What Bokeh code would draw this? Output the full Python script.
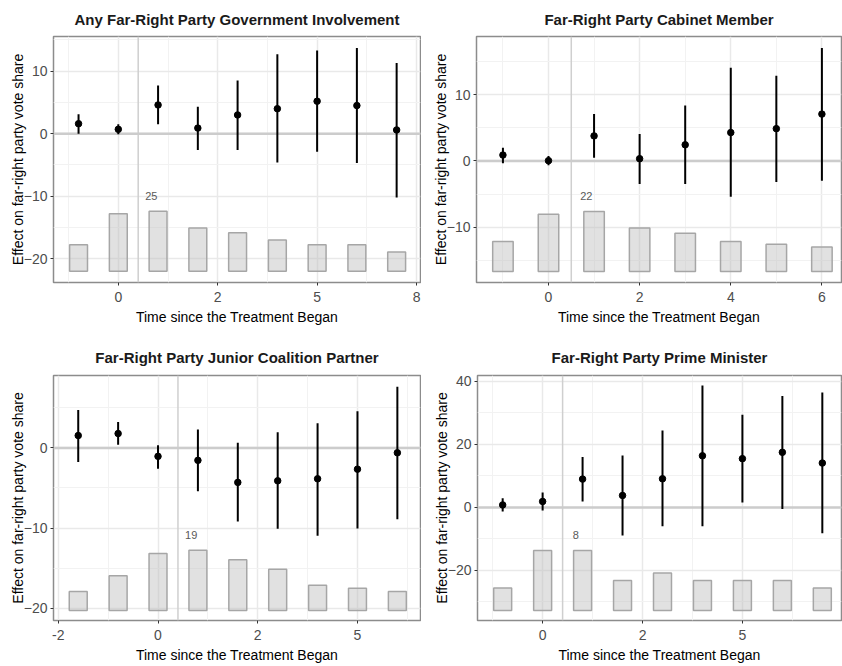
from bokeh.plotting import figure
from bokeh.models import FixedTicker, Span, Range1d
from bokeh.layouts import column, row
from bokeh.embed import file_html
from bokeh.resources import INLINE
from bokeh.core.properties import value

FONT = "Liberation Sans"

x_title = "Time since the Treatment Began"
y_title = "Effect on far-right party vote share"

# ---- Panel 1: Any far-right party government involvement
title_1 = "Any Far-Right Party Government Involvement"
time_1 = [-1, 0, 1, 2, 3, 4, 5, 6, 7]
est_1 = [1.6, 0.7, 4.6, 0.9, 3.0, 4.0, 5.2, 4.5, 0.6]
lo_1 = [0.0, -0.1, 1.5, -2.6, -2.6, -4.6, -2.9, -4.7, -10.2]
hi_1 = [3.1, 1.5, 7.7, 4.3, 8.5, 12.7, 13.3, 13.7, 11.3]
count_1 = [11, 24, 25, 18, 16, 13, 11, 11, 8]
xticks_1 = [0, 2.5, 5, 7.5]
xlabels_1 = ["0", "2", "5", "8"]
yticks_1 = [-20, -10, 0, 10]

# ---- Panel 2: Far-right party cabinet member
title_2 = "Far-Right Party Cabinet Member"
time_2 = [-1, 0, 1, 2, 3, 4, 5, 6]
est_2 = [0.9, 0.05, 3.8, 0.35, 2.45, 4.3, 4.9, 7.1]
lo_2 = [-0.35, -0.65, 0.5, -3.5, -3.5, -5.4, -3.2, -3.0]
hi_2 = [2.0, 0.75, 7.1, 4.1, 8.4, 14.1, 12.9, 17.1]
count_2 = [11, 21, 22, 16, 14, 11, 10, 9]
xticks_2 = [0, 2, 4, 6]
xlabels_2 = ["0", "2", "4", "6"]
yticks_2 = [-10, 0, 10]

# ---- Panel 3: Far-right party junior coalition partner
title_3 = "Far-Right Party Junior Coalition Partner"
time_3 = [-2, -1, 0, 1, 2, 3, 4, 5, 6]
est_3 = [1.55, 1.8, -1.05, -1.55, -4.3, -4.1, -3.85, -2.65, -0.6]
lo_3 = [-1.75, 0.4, -2.6, -5.4, -9.2, -10.1, -10.95, -10.05, -8.9]
hi_3 = [4.75, 3.25, 0.35, 2.3, 0.65, 1.95, 3.1, 4.6, 7.65]
count_3 = [6, 11, 18, 19, 16, 13, 8, 7, 6]
xticks_3 = [-2.5, 0, 2.5, 5]
xlabels_3 = ["-2", "0", "2", "5"]
yticks_3 = [-20, -10, 0]

# ---- Panel 4: Far-right party prime minister
title_4 = "Far-Right Party Prime Minister"
time_4 = [-1, 0, 1, 2, 3, 4, 5, 6, 7]
est_4 = [0.8, 1.9, 9.0, 3.8, 9.1, 16.4, 15.5, 17.5, 14.1]
lo_4 = [-1.3, -0.95, 1.9, -8.9, -6.0, -6.0, 1.6, -0.5, -8.2]
hi_4 = [2.95, 4.75, 16.0, 16.5, 24.4, 38.7, 29.4, 35.4, 36.5]
count_4 = [3, 8, 8, 4, 5, 4, 4, 4, 3]
xticks_4 = [0, 2.5, 5]
xlabels_4 = ["0", "2", "5"]
yticks_4 = [-20, 0, 20, 40]


def midpoints(ticks, lo, hi):
    step = ticks[1] - ticks[0]
    out = []
    v = ticks[0] - step / 2
    while v > lo:
        v -= step
    v += step
    while v < hi:
        out.append(v)
        v += step
    return [m for m in out if m not in ticks]


def panel(title, t, est, lo, hi, cnt, xticks, xlabels, yticks,
          xr, yr, bar_base, bar_h, left, right, top, bottom, height, t_standoff):
    p = figure(width=421, height=height,
               x_range=Range1d(*xr), y_range=Range1d(*yr),
               output_backend="svg", toolbar_location=None,
               min_border_left=left, min_border_right=right,
               min_border_top=top, min_border_bottom=bottom,
               background_fill_color="white", border_fill_color="white",
               outline_line_color="#8c8c8c", outline_line_width=1.5)
    p.title.text = title
    p.title.text_font = FONT
    p.title.text_font_size = "15px"
    p.title.text_font_style = "bold"
    p.title.text_color = "#1a1a1a"
    p.title.align = "center"
    p.title.standoff = t_standoff

    xt = FixedTicker(ticks=xticks, minor_ticks=midpoints(xticks, xr[0], xr[1]))
    yt = FixedTicker(ticks=yticks, minor_ticks=midpoints(yticks, yr[0], yr[1]))
    p.xaxis.ticker = xt
    p.yaxis.ticker = yt
    p.xaxis.major_label_overrides = {float(k): s for k, s in zip(xticks, xlabels)}
    p.xgrid.ticker = xt
    p.ygrid.ticker = yt

    for ax in (p.xaxis, p.yaxis):
        ax.axis_line_color = None
        ax.major_tick_line_color = "#333333"
        ax.major_tick_out = 3
        ax.major_tick_in = 0
        ax.minor_tick_line_color = None
        ax.major_label_text_font = FONT
        ax.major_label_text_font_size = "14px"
        ax.major_label_text_color = "#4d4d4d"
        ax.axis_label_text_font = FONT
        ax.axis_label_text_font_size = "14px"
        ax.axis_label_text_font_style = "normal"
        ax.axis_label_text_color = "#000000"
    p.xaxis.axis_label = x_title
    p.yaxis.axis_label = y_title
    p.xaxis.major_label_standoff = 5
    p.xaxis.axis_label_standoff = 4
    p.yaxis.major_label_standoff = 2
    p.yaxis.axis_label_standoff = -5

    for g in (p.xgrid, p.ygrid):
        g.grid_line_color = "#e9e9e9"
        g.grid_line_width = 1.5
        g.minor_grid_line_color = "#f2f2f2"
        g.minor_grid_line_width = 1

    p.add_layout(Span(location=0.5, dimension="height", line_color="#cfcfcf",
                      line_width=1.5, level="underlay"))
    p.add_layout(Span(location=0, dimension="width", line_color="#cccccc",
                      line_width=2.5, level="underlay"))

    cmax = max(cnt)
    tops = [bar_base + c / cmax * bar_h for c in cnt]
    p.vbar(x=t, width=0.45, bottom=bar_base, top=tops,
           fill_color="#bdbdbd", fill_alpha=0.45,
           line_color="#a6a6a6", line_width=1.5)

    imax = len(cnt) - 1 - cnt[::-1].index(cmax)
    p.text(x=[t[imax] - 0.17], y=[tops[imax] + 0.25 * bar_h], text=[str(cmax)],
           text_align="center", text_baseline="middle",
           text_font_size="11px", text_color="#595959", text_font=value(FONT))

    p.segment(x0=t, y0=lo, x1=t, y1=hi, line_color="#000000", line_width=2)
    p.scatter(x=t, y=est, size=6.5, fill_color="#000000", line_color="#000000")
    return p


p1 = panel(title_1, time_1, est_1, lo_1, hi_1, count_1, xticks_1, xlabels_1, yticks_1,
           (-1.63, 7.6), (-23.8, 15.55), -22.0, 9.6, 53, 1, 35, 51, 333, 17)
p2 = panel(title_2, time_2, est_2, lo_2, hi_2, count_2, xticks_2, xlabels_2, yticks_2,
           (-1.58, 6.43), (-18.4, 18.85), -16.75, 9.1, 55, 1, 35, 51, 333, 17)
p3 = panel(title_3, time_3, est_3, lo_3, hi_3, count_3, xticks_3, xlabels_3, yticks_3,
           (-2.62, 6.58), (-21.55, 9.05), -20.3, 7.51, 53, 1, 42, 45, 332, 20)
p4 = panel(title_4, time_4, est_4, lo_4, hi_4, count_4, xticks_4, xlabels_4, yticks_4,
           (-1.63, 7.48), (-35.9, 41.9), -32.7, 19.05, 56, 1, 42, 45, 332, 20)

layout = column(row(p1, p2), row(p3, p4))

with open("out.html", "w") as f:
    f.write(file_html(layout, INLINE))
